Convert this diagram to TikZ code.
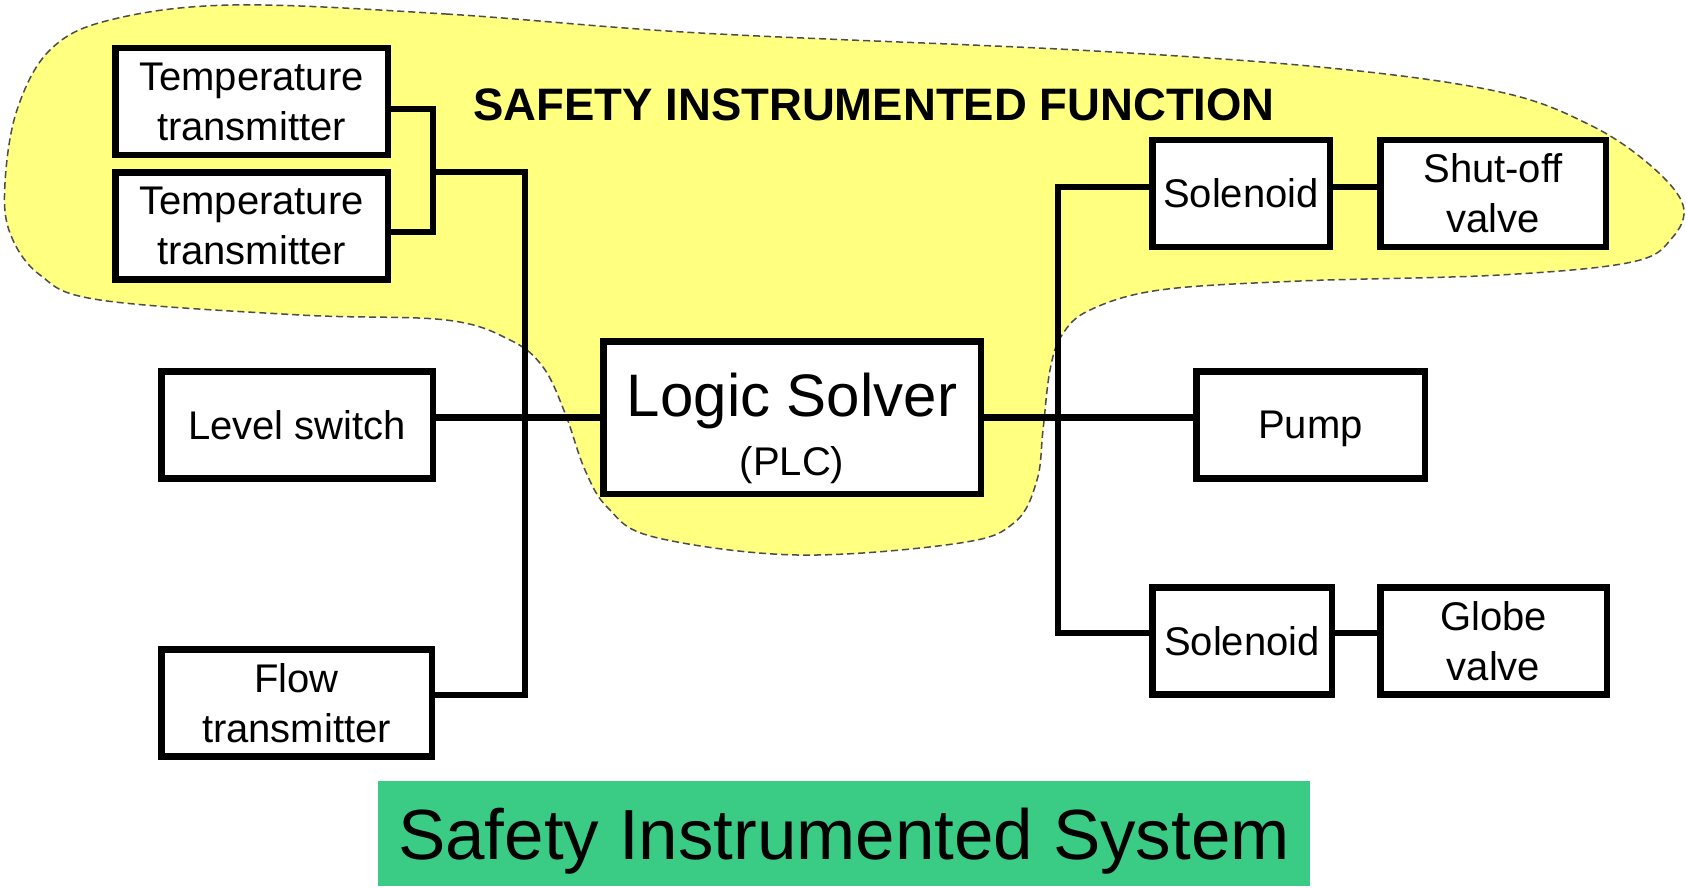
\documentclass[tikz,border=0pt]{standalone}
\usepackage{fontspec}
\setmainfont{Liberation Sans}
\definecolor{sifyellow}{RGB}{255,255,128}
\definecolor{sisgreen}{RGB}{58,204,132}
\begin{document}
\begin{tikzpicture}[x=1pt,y=-1pt,
  box/.style={draw=black, line width=6.5pt, fill=white, inner sep=0pt,
    align=center, text depth=0pt, minimum height=107pt,
    font=\fontsize{40}{50}\selectfont},
  wire/.style={line width=6.5pt, line join=miter},
  blob/.style={fill=sifyellow, draw=black!70, line width=1.5pt,
    dash pattern=on 7pt off 4pt}]
\useasboundingbox (0,0) rectangle (1686,888);

% Safety instrumented function region
\draw[blob] plot[smooth cycle, tension=0.6] coordinates {
  (233,5) (446,14) (700,33) (1077,50) (1330,68) (1500,92) (1590,125)
  (1650,165) (1683,205) (1672,238) (1632,262) (1500,275) (1300,281)
  (1160,290) (1090,310) (1062,335) (1050,370) (1043,430) (1037,480)
  (1015,522) (960,543) (797,555) (654,537) (608,508) (585,470)
  (565,413) (543,367) (510,340) (446,320) (300,315) (100,300)
  (40,275) (10,233) (5,183) (17,110) (50,50) (110,20)};

\node[anchor=base west, font=\fontsize{45.5}{50}\selectfont\bfseries]
  (siftitle) at (470,121) {SAFETY INSTRUMENTED FUNCTION};

% Field devices and logic solver
\node[box, minimum width=272.5pt] (temp1) at (251.5,101.5) {Temperature\\transmitter};
\node[box, minimum width=272.5pt] (temp2) at (251.5,226) {Temperature\\transmitter};
\node[box, minimum width=271.5pt] (lvl) at (297,425) {Level switch};
\node[box, minimum width=270.5pt] (flow) at (296.5,703) {Flow\\transmitter};
\node[box, minimum width=377.5pt, minimum height=152.5pt] (logic) at (792,417.5) {};
\node[anchor=base, font=\fontsize{60}{60}\selectfont] (logictitle) at (792,416) {Logic Solver};
\node[anchor=base, font=\fontsize{40}{40}\selectfont] (logicsub) at (792,475) {(PLC)};
\node[box, minimum width=177.5pt] (sol1) at (1241,193.5) {Solenoid};
\node[box, minimum width=225.5pt] (shut) at (1493,193.5) {Shut-off\\valve};
\node[box, minimum width=228.5pt] (pump) at (1310.5,425) {Pump};
\node[box, minimum width=179.5pt] (sol2) at (1242,641) {Solenoid};
\node[box, minimum width=226.5pt] (globe) at (1493.5,641) {Globe\\valve};

% Bus junction points
\coordinate (brktop) at (433,109);
\coordinate (brkbot) at (433,232);
\coordinate (ltop) at (525,172);
\coordinate (lbot) at (525,695);
\coordinate (rtop) at (1058,187);
\coordinate (rbot) at (1058,633);

% Wiring
\draw[wire] (temp1.east |- brktop) -- (brktop) -- (brkbot) -- (temp2.east |- brkbot);
\draw[wire] (brktop |- ltop) -- (ltop) -- (lbot) -- (flow.east |- lbot);
\draw[wire] (lvl.east |- logic.west) -- (logic.west);
\draw[wire] (logic.east) -- (pump.west |- logic.east);
\draw[wire] (sol1.west |- rtop) -- (rtop) -- (rbot) -- (sol2.west |- rbot);
\draw[wire] (sol1.east |- rtop) -- (shut.west |- rtop);
\draw[wire] (sol2.east |- rbot) -- (globe.west |- rbot);

% System label
\node[fill=sisgreen, minimum width=932pt, minimum height=105pt, inner sep=0pt,
  text depth=0pt, font=\fontsize{71}{80}\selectfont]
  (sis) at (844,833.5) {Safety Instrumented System};
\end{tikzpicture}
\end{document}
